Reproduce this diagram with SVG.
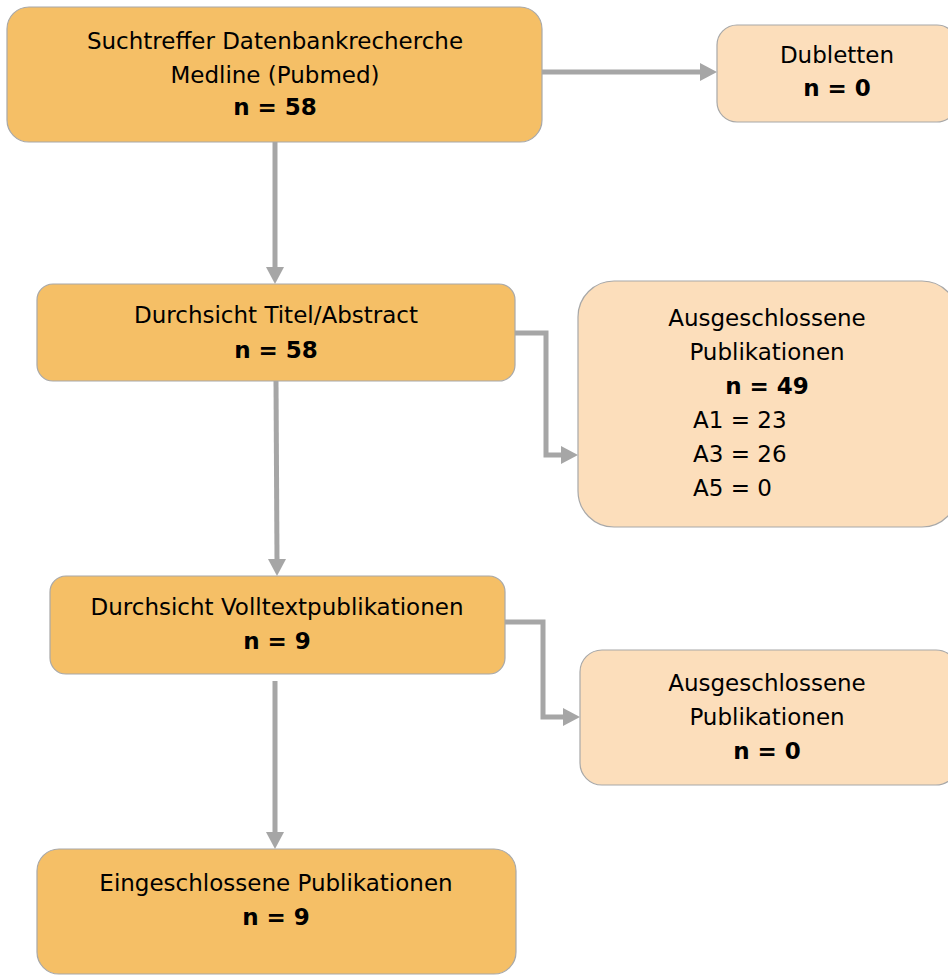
<svg xmlns="http://www.w3.org/2000/svg" width="948" height="976" viewBox="0 0 948 976">
<style>
.main{fill:#F5BF66;stroke:#A8A8A8;stroke-width:1.2}
.side{fill:#FCDEBB;stroke:#A8A8A8;stroke-width:1.2}
text{font-family:"DejaVu Sans","Liberation Sans",sans-serif;font-size:23px;fill:#000}
.c{text-anchor:middle}
.b{font-weight:bold}
.conn{fill:none;stroke:#A6A6A6;stroke-width:5}
.ah{fill:#A6A6A6}
</style>
<rect width="948" height="976" fill="#fff"/>
<g id="connectors">
<line class="conn" x1="542" y1="72" x2="702" y2="72"/>
<polygon class="ah" points="717,72 700,63 700,81"/>
<line class="conn" x1="275" y1="142" x2="275" y2="268"/>
<polygon class="ah" points="275,284 266,267 284,267"/>
<polyline class="conn" points="515,333 546,333 546,455 562,455"/>
<polygon class="ah" points="578,455 561,446 561,464"/>
<line class="conn" x1="276" y1="381" x2="277" y2="560"/>
<polygon class="ah" points="277,576 268,559 286,559"/>
<polyline class="conn" points="505,622 543,622 543,717 564,717"/>
<polygon class="ah" points="580,717 563,708 563,726"/>
<line class="conn" x1="275" y1="681" x2="275" y2="833"/>
<polygon class="ah" points="275,849 266,832 284,832"/>
</g>
<g id="n1">
<rect class="main" x="7" y="7" width="535" height="135" rx="22"/>
<text class="c" x="275" y="49">Suchtreffer Datenbankrecherche</text>
<text class="c" x="275" y="83">Medline (Pubmed)</text>
<text class="c b" x="275" y="115">n = 58</text>
</g>
<g id="n2">
<rect class="side" x="717" y="25" width="240" height="97" rx="20"/>
<text class="c" x="837" y="63">Dubletten</text>
<text class="c b" x="837" y="96">n = 0</text>
</g>
<g id="n3">
<rect class="main" x="37" y="284" width="478" height="97" rx="16"/>
<text class="c" x="276" y="323">Durchsicht Titel/Abstract</text>
<text class="c b" x="276" y="358">n = 58</text>
</g>
<g id="n4">
<rect class="side" x="578" y="281" width="380" height="246" rx="36"/>
<text class="c" x="767" y="326">Ausgeschlossene</text>
<text class="c" x="767" y="360">Publikationen</text>
<text class="c b" x="767" y="394">n = 49</text>
<text x="693" y="428">A1 = 23</text>
<text x="693" y="462">A3 = 26</text>
<text x="693" y="496">A5 = 0</text>
</g>
<g id="n5">
<rect class="main" x="50" y="576" width="455" height="98" rx="16"/>
<text class="c" x="277" y="615">Durchsicht Volltextpublikationen</text>
<text class="c b" x="277" y="649">n = 9</text>
</g>
<g id="n6">
<rect class="side" x="580" y="650" width="378" height="135" rx="22"/>
<text class="c" x="767" y="691">Ausgeschlossene</text>
<text class="c" x="767" y="725">Publikationen</text>
<text class="c b" x="767" y="759">n = 0</text>
</g>
<g id="n7">
<rect class="main" x="37" y="849" width="479" height="125" rx="22"/>
<text class="c" x="276" y="891">Eingeschlossene Publikationen</text>
<text class="c b" x="276" y="925">n = 9</text>
</g>
</svg>
